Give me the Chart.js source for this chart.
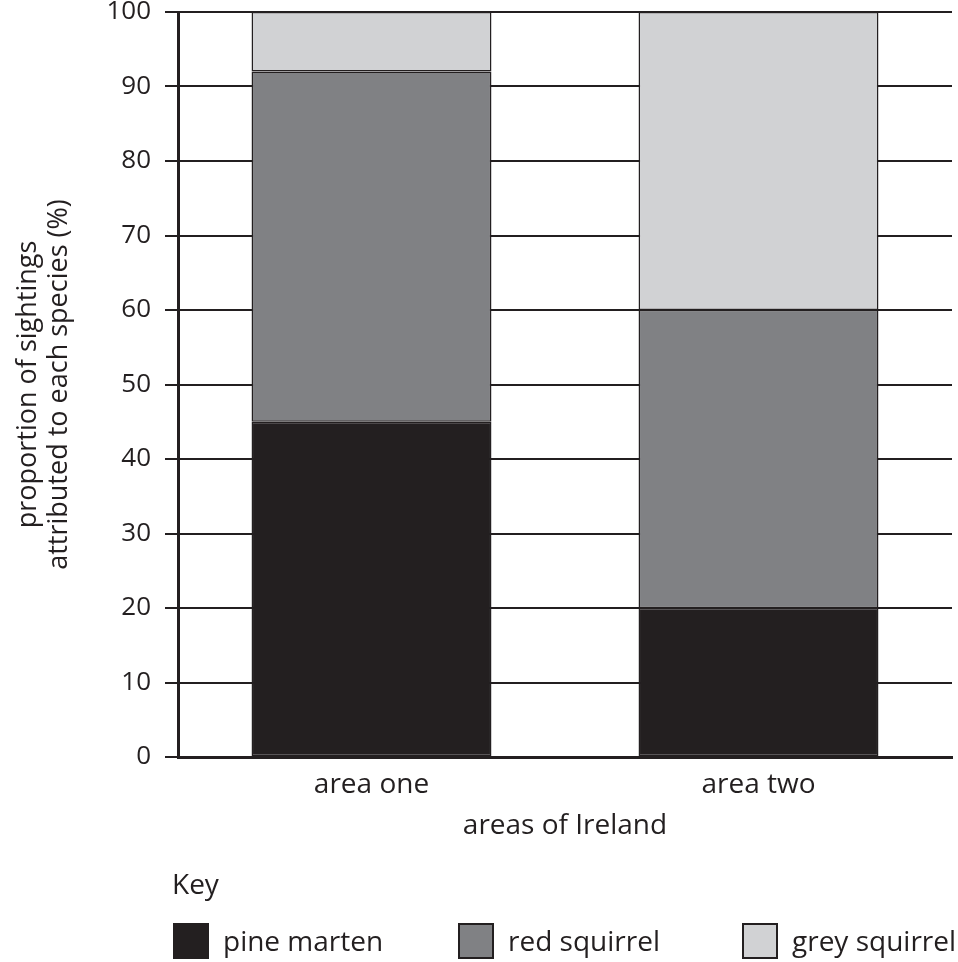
<!DOCTYPE html>
<html>
<head>
<meta charset="utf-8">
<script src="https://cdn.jsdelivr.net/npm/chart.js@4"></script>
<style>
  body { margin: 0; background: #fff; overflow: hidden; }
  #wrap { position: relative; width: 958px; height: 962px; font-family: "Open Sans", sans-serif; color: #231f20; }
  canvas { position: absolute; left: 0; top: 0; }
  .txt { position: absolute; font-size: 28px; line-height: 36px; white-space: nowrap; }
  .box { position: absolute; width: 32px; height: 32px; border: 2px solid #231f20; }
</style>
</head>
<body>
<div id="wrap">
  <canvas id="chart" width="958" height="962"></canvas>
  <div class="txt" style="left:172px; top:865px;">Key</div>
  <div id="legend"></div>
</div>
<script>
// Datos
const AREAS = ["area one", "area two"];
const PINE_MARTEN = [45, 20];
const RED_SQUIRREL = [47, 40];
const GREY_SQUIRREL = [8, 40];
const Y_TICKS = [0, 10, 20, 30, 40, 50, 60, 70, 80, 90, 100];

const INK = "#231f20";
const FONT = "'Open Sans', sans-serif";

const SERIES = [
  { label: "pine marten", data: PINE_MARTEN, color: "#231f20" },
  { label: "red squirrel", data: RED_SQUIRREL, color: "#808184" },
  { label: "grey squirrel", data: GREY_SQUIRREL, color: "#d1d2d4" },
];

// Leyenda (Key)
const LEGEND_X = [173, 458, 742];
const legend = document.getElementById("legend");
SERIES.forEach((s, i) => {
  const box = document.createElement("div");
  box.className = "box";
  box.style.left = LEGEND_X[i] + "px";
  box.style.top = "923px";
  box.style.background = s.color;
  legend.appendChild(box);
  const label = document.createElement("div");
  label.className = "txt";
  label.style.left = LEGEND_X[i] + 50 + "px";
  label.style.top = "922px";
  label.textContent = s.label;
  legend.appendChild(label);
});

// Gráfica
const ctx = document.getElementById("chart").getContext("2d");
new Chart(ctx, {
  type: "bar",
  data: {
    labels: AREAS,
    datasets: SERIES.map((s) => ({
      label: s.label,
      data: s.data,
      backgroundColor: s.color,
      borderColor: INK,
      borderWidth: 1.5,
      borderSkipped: false,
      barPercentage: 0.62,
      categoryPercentage: 1,
    })),
  },
  options: {
    responsive: false,
    animation: false,
    layout: { padding: { top: 12, right: 6, bottom: 105, left: 0 } },
    plugins: { legend: { display: false }, tooltip: { enabled: false } },
    scales: {
      x: {
        stacked: true,
        afterFit: (scale) => { scale.height = 100; },
        grid: { display: false },
        border: { display: true, width: 3, color: INK },
        ticks: { color: INK, padding: 3, font: { family: FONT, size: 28, lineHeight: 1.2 } },
        title: {
          display: true,
          text: "areas of Ireland",
          color: INK,
          font: { family: FONT, size: 28, lineHeight: 1.2 },
          padding: { top: 0, bottom: 14 },
        },
      },
      y: {
        stacked: true,
        min: 0,
        max: 100,
        afterFit: (scale) => {
          scale.width = 178;
          scale.paddingTop = 0; // que el 100 no empuje el área hacia abajo
        },
        afterBuildTicks: (scale) => { scale.ticks = Y_TICKS.map((v) => ({ value: v })); },
        grid: { color: INK, lineWidth: 2, tickLength: 13, drawTicks: true },
        border: { display: true, width: 3, color: INK },
        ticks: { color: INK, padding: 14, font: { family: FONT, size: 26, lineHeight: 1.2 } },
        title: {
          display: true,
          text: ["proportion of sightings", "attributed to each species (%)"],
          color: INK,
          font: { family: FONT, size: 27, lineHeight: 1.15 },
          padding: { top: 13, bottom: 0 },
        },
      },
    },
  },
});
</script>
</body>
</html>
